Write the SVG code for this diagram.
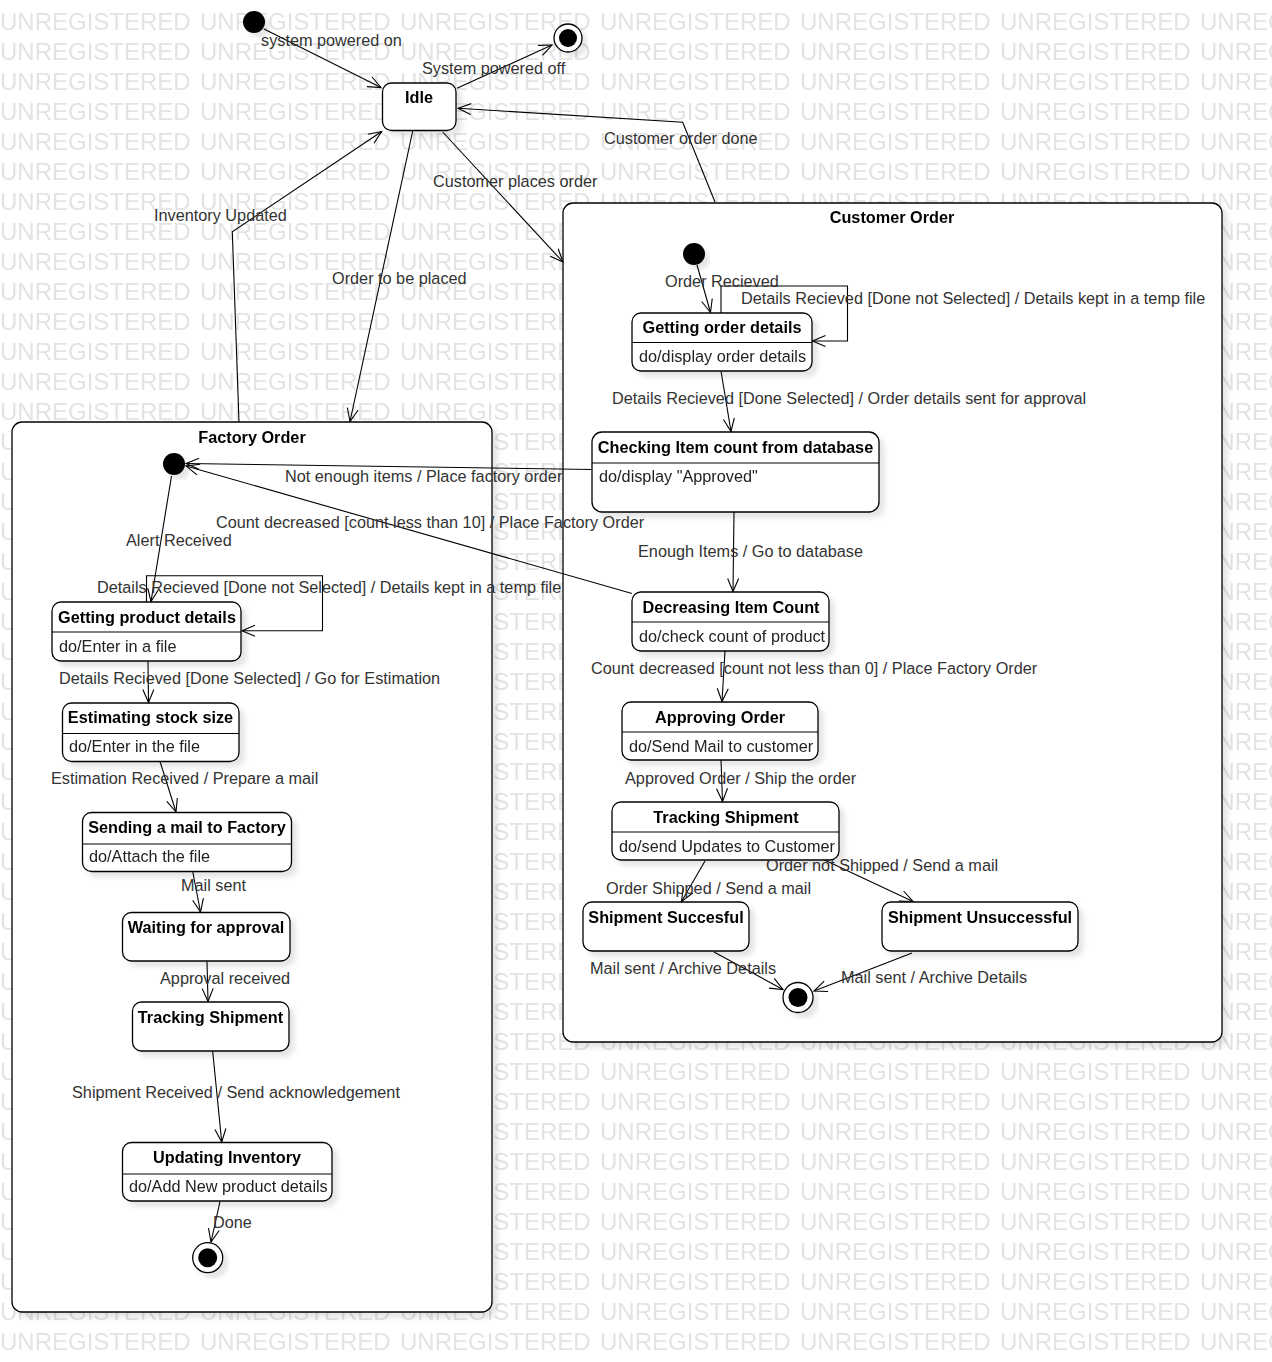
<svg xmlns="http://www.w3.org/2000/svg" width="1272" height="1362" viewBox="0 0 1272 1362">
  <defs>
    <style>
      .wm { font-family: "Liberation Sans", Arial, sans-serif; font-size: 24px; fill: #e3e3e3; }
      .box { fill: #ffffff; stroke: #000000; stroke-width: 1.3; }
      .sep { stroke: #000000; stroke-width: 1.1; }
      .title { font-family: "Liberation Sans", Arial, sans-serif; font-size: 16.25px; font-weight: bold; fill: #000000; text-anchor: middle; }
      .body { font-family: "Liberation Sans", Arial, sans-serif; font-size: 16.25px; fill: #222222; }
      .lbl { font-family: "Liberation Sans", Arial, sans-serif; font-size: 16.25px; fill: #333333; }
      .edge { fill: none; stroke: #000000; stroke-width: 1.1; marker-end: url(#open); }
      .dot { fill: #000000; }
      .ring { fill: #ffffff; stroke: #000000; stroke-width: 1.3; }
    </style>
    <pattern id="wmTile" patternUnits="userSpaceOnUse" x="0" y="0" width="200" height="30">
      <text class="wm" x="0" y="29.5">UNREGISTERED</text>
    </pattern>
    <filter id="shadow" x="-10%" y="-10%" width="130%" height="130%">
      <feDropShadow dx="5" dy="5" stdDeviation="2.5" flood-color="#000000" flood-opacity="0.1"/>
    </filter>
    <marker id="open" viewBox="-14 -8 16 16" refX="0" refY="0" markerWidth="16" markerHeight="16" markerUnits="userSpaceOnUse" orient="auto" overflow="visible">
      <path d="M-13,-5.5 L0,0 L-13,5.5" fill="none" stroke="#000000" stroke-width="1.1"/>
    </marker>
  </defs>

  <!-- background with watermark rows -->
  <rect x="0" y="0" width="1272" height="1362" fill="#ffffff"/>
  <rect x="0" y="0" width="1272" height="1362" fill="url(#wmTile)"/>

  <!-- composite states -->
  <g id="customer-order" filter="url(#shadow)">
    <rect class="box" x="563" y="203" width="659" height="839" rx="10"/>
    <text class="title" x="892" y="223">Customer Order</text>
  </g>
  <g id="factory-order" filter="url(#shadow)">
    <rect class="box" x="12" y="422" width="480" height="890" rx="10"/>
    <text class="title" x="252" y="443">Factory Order</text>
  </g>

  <!-- top level states -->
  <g id="start" filter="url(#shadow)"><circle class="dot" cx="254" cy="22" r="11"/></g>
  <g id="end" filter="url(#shadow)">
    <circle class="ring" cx="568" cy="38" r="14"/>
    <circle class="dot" cx="568" cy="38" r="9"/>
  </g>
  <g id="idle" filter="url(#shadow)">
    <rect class="box" x="382.5" y="83" width="73.5" height="47.5" rx="9"/>
    <text class="title" x="419" y="103">Idle</text>
  </g>

  <!-- Customer Order substates -->
  <g id="co-start" filter="url(#shadow)"><circle class="dot" cx="694" cy="254" r="11"/></g>
  <g id="co-getting-order" filter="url(#shadow)">
    <rect class="box" x="632" y="313" width="180" height="58" rx="9"/>
    <line class="sep" x1="632" y1="342.5" x2="812" y2="342.5"/>
    <text class="title" x="722" y="333">Getting order details</text>
    <text class="body" x="639" y="362">do/display order details</text>
  </g>
  <g id="co-checking" filter="url(#shadow)">
    <rect class="box" x="592" y="432" width="287" height="80" rx="10"/>
    <line class="sep" x1="592" y1="463" x2="879" y2="463"/>
    <text class="title" x="735.5" y="453">Checking Item count from database</text>
    <text class="body" x="599" y="482">do/display "Approved"</text>
  </g>
  <g id="co-decreasing" filter="url(#shadow)">
    <rect class="box" x="632" y="592" width="197" height="59" rx="9"/>
    <line class="sep" x1="632" y1="622" x2="829" y2="622"/>
    <text class="title" x="731" y="613">Decreasing Item Count</text>
    <text class="body" x="639" y="642">do/check count of product</text>
  </g>
  <g id="co-approving" filter="url(#shadow)">
    <rect class="box" x="622" y="702" width="196" height="58" rx="9"/>
    <line class="sep" x1="622" y1="732" x2="818" y2="732"/>
    <text class="title" x="720" y="723">Approving Order</text>
    <text class="body" x="629" y="752">do/Send Mail to customer</text>
  </g>
  <g id="co-tracking" filter="url(#shadow)">
    <rect class="box" x="612" y="802" width="227" height="58" rx="9"/>
    <line class="sep" x1="612" y1="832" x2="839" y2="832"/>
    <text class="title" x="726" y="823">Tracking Shipment</text>
    <text class="body" x="619" y="852">do/send Updates to Customer</text>
  </g>
  <g id="co-ship-ok" filter="url(#shadow)">
    <rect class="box" x="583" y="902" width="166" height="49" rx="9"/>
    <text class="title" x="666" y="923">Shipment Succesful</text>
  </g>
  <g id="co-ship-fail" filter="url(#shadow)">
    <rect class="box" x="882" y="902" width="196" height="49" rx="9"/>
    <text class="title" x="980" y="923">Shipment Unsuccessful</text>
  </g>
  <g id="co-end" filter="url(#shadow)">
    <circle class="ring" cx="798" cy="997.5" r="15"/>
    <circle class="dot" cx="798" cy="997.5" r="9.5"/>
  </g>

  <!-- Factory Order substates -->
  <g id="fo-start" filter="url(#shadow)"><circle class="dot" cx="174" cy="464" r="11"/></g>
  <g id="fo-getting-product" filter="url(#shadow)">
    <rect class="box" x="52" y="602" width="189" height="59" rx="9"/>
    <line class="sep" x1="52" y1="632" x2="241" y2="632"/>
    <text class="title" x="147" y="623">Getting product details</text>
    <text class="body" x="59" y="652">do/Enter in a file</text>
  </g>
  <g id="fo-estimating" filter="url(#shadow)">
    <rect class="box" x="62.5" y="703" width="176.5" height="58.5" rx="9"/>
    <line class="sep" x1="62.5" y1="733.5" x2="239" y2="733.5"/>
    <text class="title" x="150.5" y="723">Estimating stock size</text>
    <text class="body" x="69" y="752">do/Enter in the file</text>
  </g>
  <g id="fo-sending" filter="url(#shadow)">
    <rect class="box" x="82.5" y="812.5" width="209" height="59" rx="9"/>
    <line class="sep" x1="82.5" y1="844" x2="291.5" y2="844"/>
    <text class="title" x="187" y="833">Sending a mail to Factory</text>
    <text class="body" x="89" y="862">do/Attach the file</text>
  </g>
  <g id="fo-waiting" filter="url(#shadow)">
    <rect class="box" x="122.5" y="912.5" width="167.5" height="48.5" rx="9"/>
    <text class="title" x="206" y="933">Waiting for approval</text>
  </g>
  <g id="fo-tracking" filter="url(#shadow)">
    <rect class="box" x="132.5" y="1002" width="156.5" height="49" rx="9"/>
    <text class="title" x="210.5" y="1023">Tracking Shipment</text>
  </g>
  <g id="fo-updating" filter="url(#shadow)">
    <rect class="box" x="122.5" y="1142.5" width="209.5" height="58.5" rx="9"/>
    <line class="sep" x1="122.5" y1="1174" x2="332" y2="1174"/>
    <text class="title" x="227" y="1163">Updating Inventory</text>
    <text class="body" x="129" y="1192">do/Add New product details</text>
  </g>
  <g id="fo-end" filter="url(#shadow)">
    <circle class="ring" cx="207.7" cy="1257.7" r="15"/>
    <circle class="dot" cx="207.7" cy="1257.7" r="9.5"/>
  </g>

  <!-- transitions -->
  <g id="connectors">
    <path class="edge" d="M264,29 L381,87.5"/>
    <path class="edge" d="M457,88.3 L552,45"/>
    <path class="edge" d="M715,202 L682.7,122.3 L458,108.3"/>
    <path class="edge" d="M442.7,132 L563,262"/>
    <path class="edge" d="M412.7,131 L350,421.5"/>
    <path class="edge" d="M239,422 L232.3,231.7 L381.7,131.5"/>

    <path class="edge" d="M697,265 L710.5,312.5"/>
    <path class="edge" d="M721,313 L721,286 L847.5,286 L847.5,341 L812.5,341"/>
    <path class="edge" d="M721,371 L731,431.5"/>
    <path class="edge" d="M592,469.5 L186,463.5"/>
    <path class="edge" d="M734,512 L733,591.5"/>
    <path class="edge" d="M632,593.5 L186,466"/>
    <path class="edge" d="M725,651 L722,701.5"/>
    <path class="edge" d="M721,760 L722.5,801.5"/>
    <path class="edge" d="M705,861 L681.5,901.5"/>
    <path class="edge" d="M824.5,860 L913,901.5"/>
    <path class="edge" d="M714,952 L783,989.5"/>
    <path class="edge" d="M912,953 L814,991"/>

    <path class="edge" d="M171.5,476 L151,601.5"/>
    <path class="edge" d="M146.5,602 L146.5,575.7 L322.5,575.7 L322.5,630.7 L242,630.7"/>
    <path class="edge" d="M148,661.5 L148.5,702.5"/>
    <path class="edge" d="M160,761.5 L176,812"/>
    <path class="edge" d="M192.7,871.5 L200.5,912"/>
    <path class="edge" d="M207,961.5 L208,1001.5"/>
    <path class="edge" d="M212.7,1051.5 L221.7,1142"/>
    <path class="edge" d="M220,1201.5 L211,1242"/>
  </g>

  <!-- transition labels -->
  <g id="labels">
    <text class="lbl" x="261" y="46">system powered on</text>
    <text class="lbl" x="422" y="74">System powered off</text>
    <text class="lbl" x="604" y="144">Customer order done</text>
    <text class="lbl" x="433" y="187">Customer places order</text>
    <text class="lbl" x="332" y="284">Order to be placed</text>
    <text class="lbl" x="154" y="221">Inventory Updated</text>

    <text class="lbl" x="665" y="287">Order Recieved</text>
    <text class="lbl" x="741" y="304">Details Recieved [Done not Selected] / Details kept in a temp file</text>
    <text class="lbl" x="612" y="404">Details Recieved [Done Selected] / Order details sent for approval</text>
    <text class="lbl" x="285" y="482">Not enough items / Place factory order</text>
    <text class="lbl" x="216" y="528">Count decreased [count less than 10] / Place Factory Order</text>
    <text class="lbl" x="638" y="557">Enough Items / Go to database</text>
    <text class="lbl" x="591" y="674">Count decreased [count not less than 0] / Place Factory Order</text>
    <text class="lbl" x="625" y="784">Approved Order / Ship the order</text>
    <text class="lbl" x="766" y="871">Order not Shipped / Send a mail</text>
    <text class="lbl" x="606" y="894">Order Shipped / Send a mail</text>
    <text class="lbl" x="590" y="974">Mail sent / Archive Details</text>
    <text class="lbl" x="841" y="983">Mail sent / Archive Details</text>

    <text class="lbl" x="126" y="546">Alert Received</text>
    <text class="lbl" x="97" y="593">Details Recieved [Done not Selected] / Details kept in a temp file</text>
    <text class="lbl" x="59" y="684">Details Recieved [Done Selected] / Go for Estimation</text>
    <text class="lbl" x="51" y="784">Estimation Received / Prepare a mail</text>
    <text class="lbl" x="181" y="891">Mail sent</text>
    <text class="lbl" x="160" y="984">Approval received</text>
    <text class="lbl" x="72" y="1098">Shipment Received / Send acknowledgement</text>
    <text class="lbl" x="213" y="1228">Done</text>
  </g>
</svg>
